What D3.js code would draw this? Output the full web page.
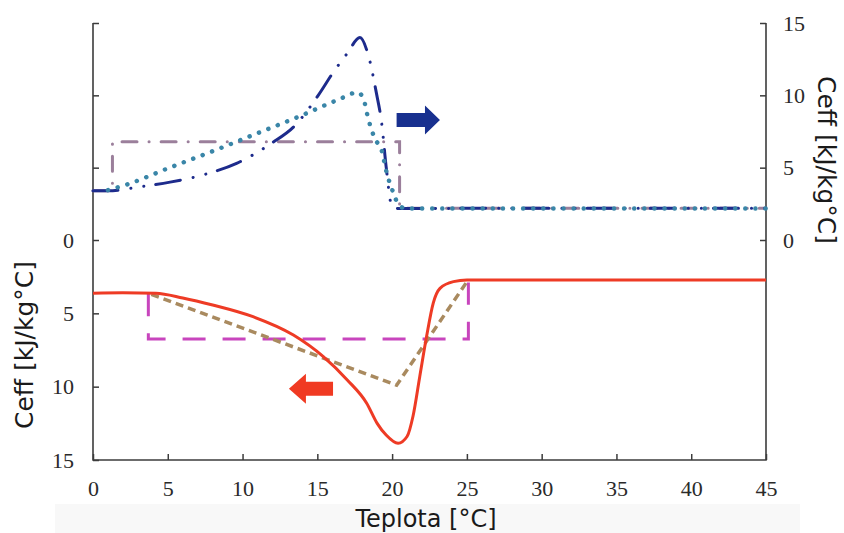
<!DOCTYPE html>
<html><head><meta charset="utf-8">
<script src="https://cdn.jsdelivr.net/npm/d3@7"></script>
<style>html,body{margin:0;padding:0;background:#fff;}svg{display:block;}</style>
</head><body>
<svg id="c" width="844" height="533"></svg>
<script>
// ---- data (temperature °C, Ceff kJ/kg°C) ----
const xTicks = [0,5,10,15,20,25,30,35,40,45];
const leftTicks = [0,5,10,15];
const rightTicks = [0,5,10,15];

// upper panel (right axis)
const navyT = [0,1,3.25,5.15,7.7,9.6,11.95,13.4,15.06,16.07,17.0,17.85,18.4,18.96,19.3,19.6,19.97,20.4,30,45];
const navyV = [3.4,3.4,3.7,4.0,4.6,5.3,6.7,7.8,10.0,11.6,12.9,14.0,12.8,10.1,8.1,5.07,2.4,2.18,2.2,2.2];
const tealT = [1,2.36,5,8.4,11.05,13.7,16.4,17.7,18.07,18.4,18.85,19.3,19.6,20.07,20.4,20.9,30,45];
const tealV = [3.45,3.87,4.95,6.3,7.4,8.5,9.7,10.2,9.8,8.4,7.0,6.2,4.8,3.3,2.5,2.18,2.18,2.18];
const mauveT = [0,1.3,1.3,20.5,20.5,45];
const mauveV = [3.4,3.4,6.8,6.8,2.2,2.2];

// lower panel (left axis, inverted)
const redT = [0,2,4.2,6,8,10.7,13.4,15.4,17,18.3,19,19.6,20.4,21,21.4,21.85,22.3,22.75,23.2,24.1,25,30,45];
const redV = [3.63,3.6,3.63,3.95,4.43,5.23,6.48,7.95,9.54,11.13,12.5,13.3,13.86,13.4,12.0,9.3,6.6,4.3,3.3,2.84,2.73,2.73,2.73];
const brownT = [3.9,20.3,25];
const brownV = [3.7,9.9,2.85];
const magentaT = [3.7,3.7,25.1,25.1];
const magentaV = [3.63,6.75,6.75,2.9];

// arrow annotations (data units)
const arrowBlue = {from:20.3, to:23.2, v:8.3};   // right axis, points right
const arrowRed  = {from:16.05, to:13.1, v:10.15}; // left axis, points left

// ---- drawing ----
const svg = d3.select("#c");
const X0 = 93, X1 = 766, YTOP = 23, YMID = 240, YBOT = 460;
const x = d3.scaleLinear().domain([0,45]).range([X0,X1]);
const yL = d3.scaleLinear().domain([0,15]).range([YMID,YBOT]);
const yR = d3.scaleLinear().domain([0,15]).range([YMID,YTOP]);

svg.append("rect").attr("x",55).attr("y",504).attr("width",745).attr("height",29).attr("fill","#f8f8f8");

const axisColor = "#3c3c3c";
function styleAxis(g){
  g.selectAll(".domain").remove();
  g.selectAll(".tick line").attr("stroke",axisColor).attr("stroke-width",1.5);
  g.selectAll(".tick text").attr("fill","#2a2a2a").style("font-family","'Liberation Serif','Times New Roman',serif").style("font-size","22px");
}
// x axis
svg.append("g").attr("transform",`translate(0,${YBOT})`)
  .call(d3.axisBottom(x).tickValues(xTicks).tickSizeInner(-6).tickSizeOuter(0).tickPadding(20).tickFormat(d3.format("d")))
  .call(styleAxis);
// left axis lower (labelled)
svg.append("g").attr("transform",`translate(${X0},0)`)
  .call(d3.axisLeft(yL).tickValues(leftTicks).tickSizeInner(-6).tickSizeOuter(0).tickPadding(19).tickFormat(d3.format("d")))
  .call(styleAxis);
// left axis upper (unlabelled ticks)
svg.append("g").attr("transform",`translate(${X0},0)`)
  .call(d3.axisLeft(yR).tickValues([5,10,15]).tickSizeInner(-6).tickSizeOuter(0).tickFormat(""))
  .call(styleAxis);
// right axis
svg.append("g").attr("transform",`translate(${X1},0)`)
  .call(d3.axisRight(yR).tickValues(rightTicks).tickSizeInner(-6).tickSizeOuter(0).tickPadding(17).tickFormat(d3.format("d")))
  .call(styleAxis);
// axis lines
svg.append("path").attr("d",`M${X0},${YTOP}V${YBOT}H${X1}V${YTOP}`).attr("fill","none").attr("stroke",axisColor).attr("stroke-width",1.6);

function series(T,V,ys,curve){
  return d3.line().x((d,i)=>x(T[i])).y((d,i)=>ys(V[i])).curve(curve)(T);
}
const g = svg.append("g");
// upper
g.append("path").attr("d",series(mauveT,mauveV,yR,d3.curveLinear)).attr("fill","none")
  .attr("stroke","#9b7f9b").attr("stroke-width",3).attr("stroke-dasharray","15 12 0.1 12").attr("stroke-linecap","round");
g.append("path").attr("d",series(navyT,navyV,yR,d3.curveMonotoneX)).attr("fill","none")
  .attr("stroke","#1d2b8c").attr("stroke-width",3).attr("stroke-dasharray","25 13 0.1 13 0.1 12").attr("stroke-linecap","round");
g.append("path").attr("d",series(tealT,tealV,yR,d3.curveMonotoneX)).attr("fill","none")
  .attr("stroke","#3a86a8").attr("stroke-width",4.5).attr("stroke-dasharray","0.1 10").attr("stroke-linecap","round");
// lower
g.append("path").attr("d",series(magentaT,magentaV,yL,d3.curveLinear)).attr("fill","none")
  .attr("stroke","#c845bd").attr("stroke-width",3).attr("stroke-dasharray","23 17");
g.append("path").attr("d",series(brownT,brownV,yL,d3.curveLinear)).attr("fill","none")
  .attr("stroke","#a98a5f").attr("stroke-width",3.5).attr("stroke-dasharray","8 5");
g.append("path").attr("d",series(redT,redV,yL,d3.curveMonotoneX)).attr("fill","none")
  .attr("stroke","#ee3b25").attr("stroke-width",3);

// arrows
function arrow(a, ys, color, bodyH, headH, headL){
  const x0 = x(a.from), x1 = x(a.to), cy = ys(a.v);
  const dir = Math.sign(x1-x0);
  const xb = x1 - dir*headL;
  const pts = [[x0,cy-bodyH/2],[xb,cy-bodyH/2],[xb,cy-headH/2],[x1,cy],[xb,cy+headH/2],[xb,cy+bodyH/2],[x0,cy+bodyH/2]];
  svg.append("path").attr("d",d3.line()(pts)+"Z").attr("fill",color);
}
arrow(arrowBlue, yR, "#18308f", 14, 29, 15);
arrow(arrowRed, yL, "#f03a22", 14, 30, 17);

// titles
const titleFont = "'DejaVu Sans',Verdana,sans-serif";
svg.append("text").attr("x",426).attr("y",527).attr("text-anchor","middle")
  .style("font-family",titleFont).style("font-size","24px").attr("fill","#1a1a1a").text("Teplota [°C]");
svg.append("text").attr("transform","translate(33,345) rotate(-90)").attr("text-anchor","middle")
  .style("font-family",titleFont).style("font-size","25px").attr("fill","#1a1a1a").text("Ceff [kJ/kg°C]");
svg.append("text").attr("transform","translate(818,160) rotate(90)").attr("text-anchor","middle")
  .style("font-family",titleFont).style("font-size","25px").attr("fill","#1a1a1a").text("Ceff [kJ/kg°C]");
</script>
</body></html>
